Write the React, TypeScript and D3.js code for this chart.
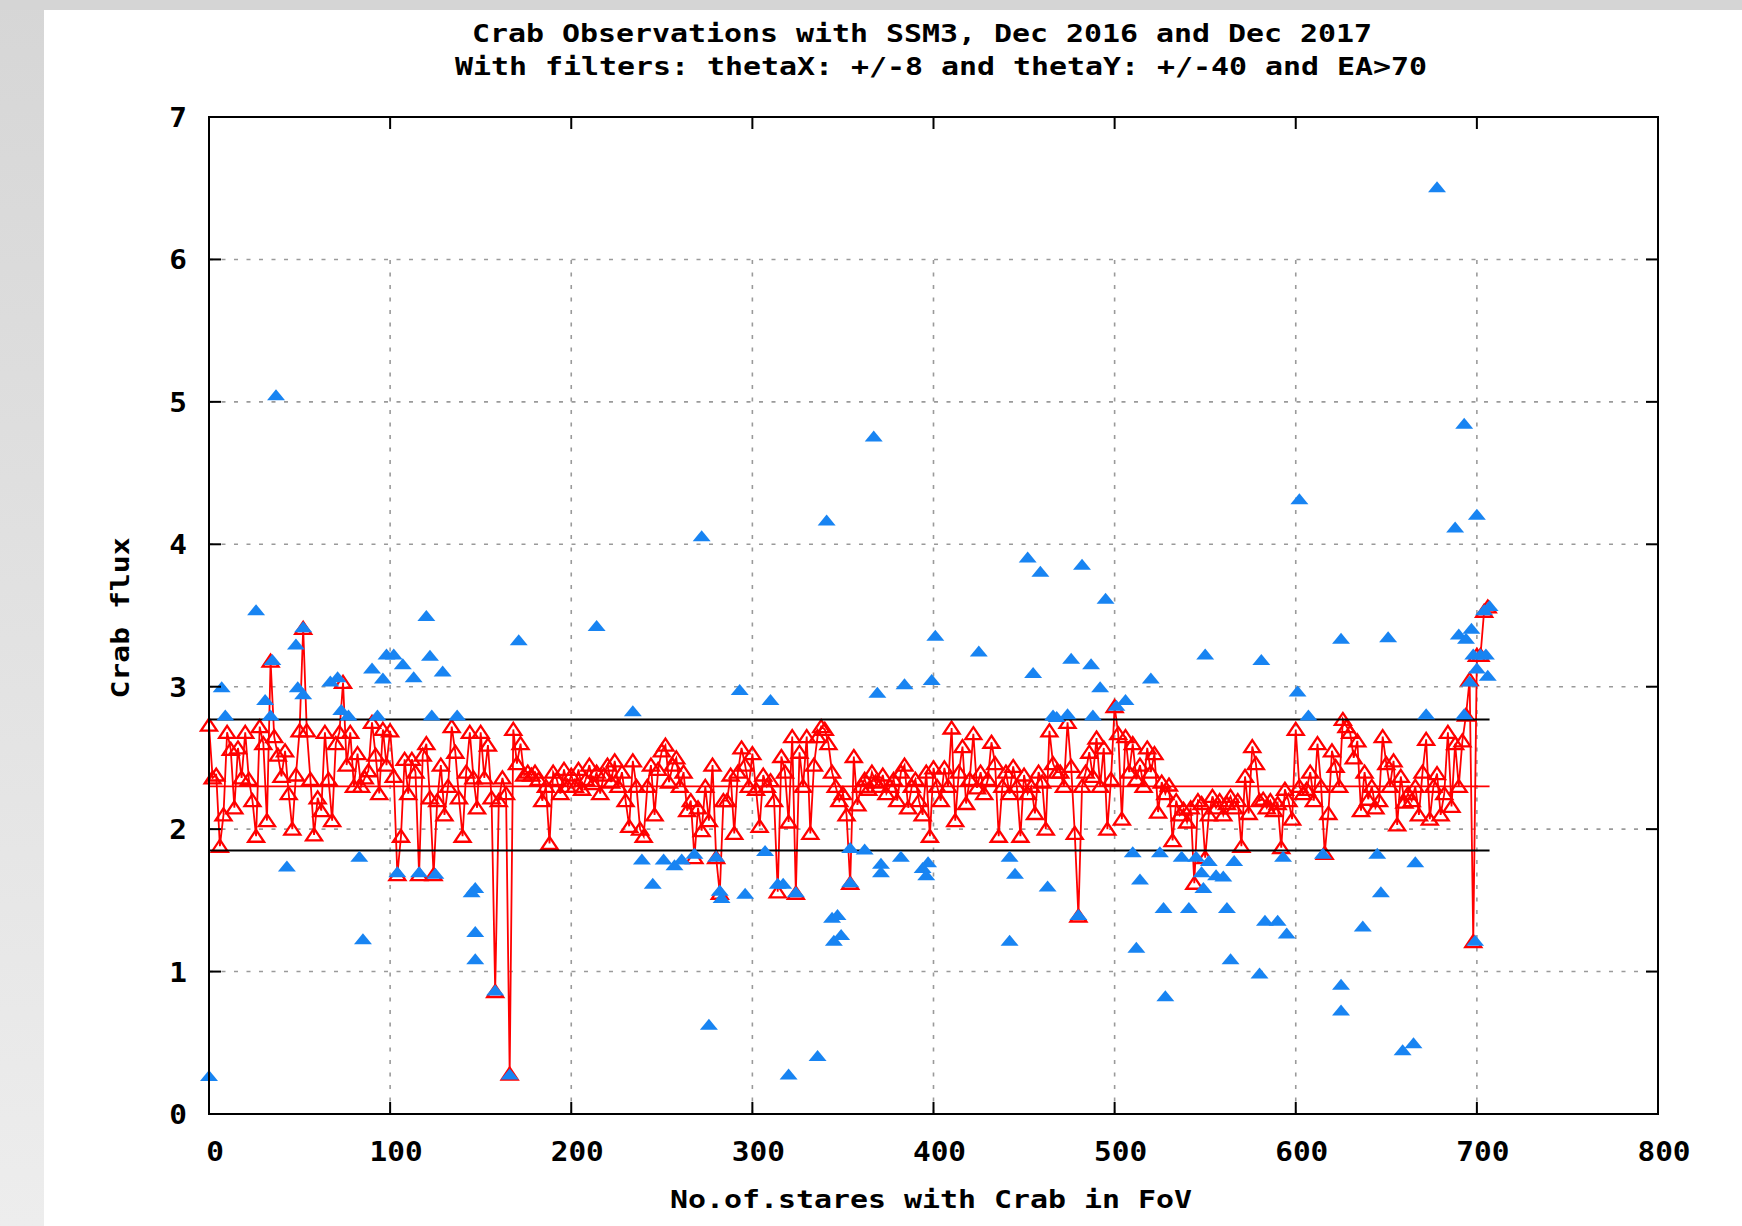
import React, { useEffect, useRef } from 'react';
import * as d3 from 'd3';

// Titles and axis text
const titleLines = [
    'Crab Observations with SSM3, Dec 2016 and Dec 2017',
    'With filters: thetaX: +/-8 and thetaY: +/-40 and EA>70',
];
const xLabel = 'No.of.stares with Crab in FoV';
const yLabel = 'Crab flux';
const xTicks = [0, 100, 200, 300, 400, 500, 600, 700, 800];
const yTicks = [0, 1, 2, 3, 4, 5, 6, 7];

// Reference lines: mean and +/- band, drawn up to the last stare
const meanFlux = 2.3;
const upperFlux = 2.77;
const lowerFlux = 1.85;
const lastStare = 707;

// Red series (linespoints): one reading every second stare, starting at stare 0
const redStep = 2;
const redFlux = [
    // 0 - 48
    2.73, 2.36, 2.38, 1.88, 2.10, 2.68, 2.56, 2.15, 2.57, 2.36, 2.68, 2.35, 2.20, 1.95, 2.72, 2.60, 2.06, 3.18, 2.65, 2.52, 2.37, 2.55, 2.25, 2.00, 2.38,
    // 50 - 98
    2.69, 3.41, 2.69, 2.35, 1.96, 2.22, 2.13, 2.68, 2.35, 2.06, 2.60, 2.68, 3.03, 2.45, 2.68, 2.30, 2.53, 2.30, 2.36, 2.41, 2.75, 2.52, 2.25, 2.70, 2.45,
    // 100 - 148
    2.69, 2.37, 1.68, 1.95, 2.49, 2.25, 2.49, 2.40, 1.68, 2.52, 2.60, 2.22, 1.68, 2.20, 2.45, 2.10, 2.30, 2.72, 2.54, 2.22, 1.95, 2.40, 2.68, 2.36, 2.15,
    // 150 - 198
    2.68, 2.36, 2.59, 2.22, 0.86, 2.20, 2.36, 2.25, 0.28, 2.70, 2.46, 2.60, 2.38, 2.40, 2.38, 2.40, 2.35, 2.20, 2.30, 1.90, 2.40, 2.35, 2.25, 2.42, 2.30,
    // 200 - 248
    2.38, 2.30, 2.42, 2.28, 2.35, 2.45, 2.32, 2.40, 2.25, 2.38, 2.45, 2.33, 2.48, 2.30, 2.40, 2.20, 2.02, 2.48, 2.30, 2.00, 1.95, 2.30, 2.45, 2.10, 2.42,
    // 250 - 298
    2.55, 2.59, 2.33, 2.45, 2.50, 2.30, 2.40, 2.13, 2.20, 1.80, 2.15, 1.99, 2.30, 2.06, 2.45, 1.80, 1.55, 2.20, 2.20, 2.38, 1.97, 2.40, 2.57, 2.45, 2.30,
    // 300 - 348
    2.53, 2.28, 2.02, 2.38, 2.30, 2.34, 2.20, 1.56, 2.51, 2.40, 2.05, 2.65, 1.55, 2.54, 2.30, 2.65, 1.97, 2.45, 2.65, 2.72, 2.70, 2.60, 2.40, 2.30, 2.20,
    // 350 - 398
    2.25, 2.10, 1.62, 2.51, 2.17, 2.30, 2.35, 2.28, 2.40, 2.33, 2.30, 2.38, 2.25, 2.30, 2.35, 2.20, 2.40, 2.45, 2.15, 2.30, 2.35, 2.20, 2.10, 2.40, 1.95,
    // 400 - 448
    2.43, 2.30, 2.20, 2.43, 2.30, 2.71, 2.06, 2.40, 2.58, 2.18, 2.35, 2.67, 2.29, 2.40, 2.25, 2.35, 2.61, 2.46, 1.95, 2.30, 2.40, 2.25, 2.44, 2.30, 1.95,
    // 450 - 498
    2.38, 2.25, 2.30, 2.11, 2.40, 2.33, 2.00, 2.69, 2.46, 2.40, 2.40, 2.30, 2.75, 2.44, 1.97, 1.39, 2.30, 2.40, 2.54, 2.37, 2.64, 2.30, 2.57, 2.00, 2.35,
    // 500 - 548
    2.86, 2.67, 2.07, 2.65, 2.40, 2.60, 2.35, 2.45, 2.30, 2.57, 2.40, 2.53, 2.12, 2.33, 2.25, 2.31, 1.92, 2.20, 2.10, 2.14, 2.05, 2.15, 1.62, 2.20, 2.18,
    // 550 - 598
    1.80, 2.10, 2.23, 2.15, 2.20, 2.10, 2.18, 2.23, 2.15, 2.20, 1.88, 2.37, 2.11, 2.58, 2.46, 2.20, 2.21, 2.15, 2.20, 2.13, 2.18, 1.87, 2.28, 2.20, 2.07,
    // 600 - 648
    2.70, 2.30, 2.25, 2.28, 2.40, 2.20, 2.60, 2.30, 1.83, 2.11, 2.55, 2.44, 2.30, 2.77, 2.72, 2.68, 2.50, 2.62, 2.13, 2.40, 2.21, 2.30, 2.15, 2.20, 2.65,
    // 650 - 698
    2.46, 2.30, 2.48, 2.03, 2.37, 2.19, 2.25, 2.20, 2.30, 2.10, 2.40, 2.63, 2.07, 2.30, 2.39, 2.10, 2.25, 2.68, 2.16, 2.60, 2.30, 2.62, 2.80, 3.05, 1.21,
    // 700 - 706
    3.22, 3.22, 3.53, 3.56,
];

// Blue series (points): [stare, flux]
const bluePoints = [
    [0, 0.26], [7, 2.99], [9, 2.79], [26, 3.53], [31, 2.90], [34, 2.79], [35, 3.18], [37, 5.04], [43, 1.73],
    [48, 3.29], [49, 2.99], [52, 2.94], [52, 3.41], [67, 3.03], [71, 3.06], [73, 2.83], [77, 2.79], [83, 1.80],
    [85, 1.22], [90, 3.12], [93, 2.79], [96, 3.05], [98, 3.22], [102, 3.22], [104, 1.69], [107, 3.15], [113, 3.06],
    [116, 1.69], [120, 3.49], [122, 3.21], [123, 2.79], [125, 1.68], [129, 3.10], [137, 2.79], [145, 1.55],
    [147, 1.58], [147, 1.27], [147, 1.08], [158, 0.86], [166, 0.27], [171, 3.32], [214, 3.42], [234, 2.82],
    [239, 1.78], [245, 1.61], [251, 1.78], [257, 1.74], [261, 1.78], [268, 1.82], [272, 4.05], [276, 0.62],
    [280, 1.80], [282, 1.56], [283, 1.51], [293, 2.97], [296, 1.54], [307, 1.84], [310, 2.90], [314, 1.61],
    [317, 1.61], [320, 0.27], [324, 1.55], [336, 0.40], [341, 4.16], [344, 1.37], [345, 1.21], [347, 1.39],
    [349, 1.25], [354, 1.62], [354, 1.86], [362, 1.85], [367, 4.75], [369, 2.95], [371, 1.75], [371, 1.69],
    [382, 1.80], [384, 3.01], [394, 1.72], [396, 1.67], [397, 1.76], [399, 3.04], [401, 3.35], [425, 3.24],
    [442, 1.21], [442, 1.80], [445, 1.68], [452, 3.90], [455, 3.09], [459, 3.80], [463, 1.59], [466, 2.79],
    [468, 2.78], [474, 2.80], [476, 3.19], [480, 1.39], [482, 3.85], [487, 3.15], [488, 2.79], [492, 2.99],
    [495, 3.61], [501, 2.86], [506, 2.90], [510, 1.83], [512, 1.16], [514, 1.64], [520, 3.05], [525, 1.83],
    [527, 1.44], [528, 0.82], [537, 1.80], [541, 1.44], [545, 1.80], [548, 1.69], [549, 1.58], [550, 3.22],
    [552, 1.77], [556, 1.67], [560, 1.66], [562, 1.44], [564, 1.08], [566, 1.77], [580, 0.98], [581, 3.18],
    [583, 1.35], [590, 1.35], [593, 1.80], [595, 1.26], [601, 2.96], [602, 4.31], [607, 2.79], [615, 1.82],
    [625, 3.33], [625, 0.90], [625, 0.72], [637, 1.31], [645, 1.82], [647, 1.55], [651, 3.34], [659, 0.44],
    [665, 0.49], [666, 1.76], [672, 2.80], [678, 6.50], [688, 4.11], [690, 3.36], [693, 4.84], [693, 2.80],
    [694, 3.33], [696, 3.03], [697, 3.40], [698, 3.22], [699, 1.21], [700, 4.20], [700, 3.12], [702, 3.22],
    [704, 3.53], [705, 3.22], [706, 3.07], [707, 3.56],
];

const W = 1742;
const H = 1226;
const FONT = "'DejaVu Sans Mono', 'Liberation Mono', monospace";

const App = () => {
    const svgRef = useRef(null);

    useEffect(() => {
        const svg = d3.select(svgRef.current);
        svg.selectAll('*').remove();

        // Plot area
        const x = d3.scaleLinear().domain([0, 800]).range([209, 1658]);
        const y = d3.scaleLinear().domain([0, 7]).range([1114, 117]);

        // Page background: grey strips round a white sheet
        const defs = svg.append('defs');
        const grad = defs.append('linearGradient')
            .attr('id', 'sideGrad')
            .attr('x1', 0).attr('y1', 0).attr('x2', 0).attr('y2', 1);
        grad.append('stop').attr('offset', '0%').attr('stop-color', '#d6d6d6');
        grad.append('stop').attr('offset', '100%').attr('stop-color', '#ededed');
        svg.append('rect').attr('width', W).attr('height', H).attr('fill', 'url(#sideGrad)');
        svg.append('rect').attr('width', W).attr('height', 10).attr('fill', '#d5d5d5');
        svg.append('rect')
            .attr('x', 44).attr('y', 10)
            .attr('width', W - 44).attr('height', H - 10)
            .attr('fill', '#fff');

        const addText = (str, tx, ty, anchor, size, charW, transform = null) => {
            const t = svg.append('text')
                .attr('x', tx)
                .attr('y', ty)
                .attr('text-anchor', anchor)
                .attr('textLength', str.length * charW)
                .attr('lengthAdjust', 'spacingAndGlyphs')
                .style('font-family', FONT)
                .style('font-weight', 'bold')
                .style('font-size', `${size}px`)
                .style('fill', '#000')
                .text(str);
            if (transform) t.attr('transform', transform);
            return t;
        };

        // Grid
        const grid = svg.append('g')
            .style('stroke', '#9a9a9a')
            .style('stroke-width', 1.6)
            .style('stroke-dasharray', '4,8.5');
        grid.selectAll('.hgrid')
            .data(yTicks.filter(d => d > 0 && d < 7))
            .enter().append('line')
            .attr('x1', x(0)).attr('x2', x(800))
            .attr('y1', d => y(d)).attr('y2', d => y(d));
        grid.selectAll('.vgrid')
            .data(xTicks.filter(d => d > 0 && d < 800))
            .enter().append('line')
            .attr('x1', d => x(d)).attr('x2', d => x(d))
            .attr('y1', y(0)).attr('y2', y(6));

        // Red series: line plus open triangles
        const redData = redFlux.map((v, i) => [i * redStep, v]);
        const line = d3.line().x(d => x(d[0])).y(d => y(d[1]));
        svg.append('path')
            .datum(redData)
            .attr('d', line)
            .style('fill', 'none')
            .style('stroke', '#ff0000')
            .style('stroke-width', 1.8);

        svg.append('g').selectAll('path')
            .data(redData)
            .enter().append('path')
            .attr('transform', d => `translate(${x(d[0])},${y(d[1])})`)
            .attr('d', 'M0,-6.5L8,5.5L-8,5.5Z')
            .style('fill', 'none')
            .style('stroke', '#ff0000')
            .style('stroke-width', 2.3);

        // Mean and band lines
        svg.append('line')
            .attr('x1', x(0)).attr('x2', x(lastStare))
            .attr('y1', y(meanFlux)).attr('y2', y(meanFlux))
            .style('stroke', '#ff0000').style('stroke-width', 1.6);
        [upperFlux, lowerFlux].forEach(v => {
            svg.append('line')
                .attr('x1', x(0)).attr('x2', x(lastStare))
                .attr('y1', y(v)).attr('y2', y(v))
                .style('stroke', '#000').style('stroke-width', 2);
        });

        // Blue series: filled triangles
        svg.append('g').selectAll('path')
            .data(bluePoints)
            .enter().append('path')
            .attr('transform', d => `translate(${x(d[0])},${y(d[1])})`)
            .attr('d', 'M0,-7L9,4L-9,4Z')
            .style('fill', '#1884f2');

        // Frame and ticks
        svg.append('rect')
            .attr('x', x(0)).attr('y', y(7))
            .attr('width', x(800) - x(0)).attr('height', y(0) - y(7))
            .style('fill', 'none').style('stroke', '#000').style('stroke-width', 2);
        const ticks = svg.append('g').style('stroke', '#000').style('stroke-width', 2);
        xTicks.forEach(t => {
            ticks.append('line').attr('x1', x(t)).attr('x2', x(t)).attr('y1', y(0)).attr('y2', y(0) - 12);
            ticks.append('line').attr('x1', x(t)).attr('x2', x(t)).attr('y1', y(7)).attr('y2', y(7) + 12);
        });
        yTicks.forEach(t => {
            ticks.append('line').attr('x1', x(0)).attr('x2', x(0) + 12).attr('y1', y(t)).attr('y2', y(t));
            ticks.append('line').attr('x1', x(800)).attr('x2', x(800) - 12).attr('y1', y(t)).attr('y2', y(t));
        });

        // Tick labels
        xTicks.forEach(t => addText(String(t), x(t) + 6, 1161, 'middle', 27, 17.7));
        yTicks.forEach(t => addText(String(t), 187, y(t) + 10, 'end', 27, 17.7));

        // Titles and axis labels
        addText(titleLines[0], 472, 42, 'start', 24, 18.0);
        addText(titleLines[1], 455, 75, 'start', 24, 18.0);
        addText(xLabel, 931, 1208, 'middle', 25, 18.0);
        addText(yLabel, 0, 0, 'middle', 25, 17.9, 'translate(129,618) rotate(-90)');
    }, []);

    return (
        <svg
            ref={svgRef}
            width={W}
            height={H}
            style={{ position: 'absolute', left: 0, top: 0, display: 'block' }}
        />
    );
};

export default App;
